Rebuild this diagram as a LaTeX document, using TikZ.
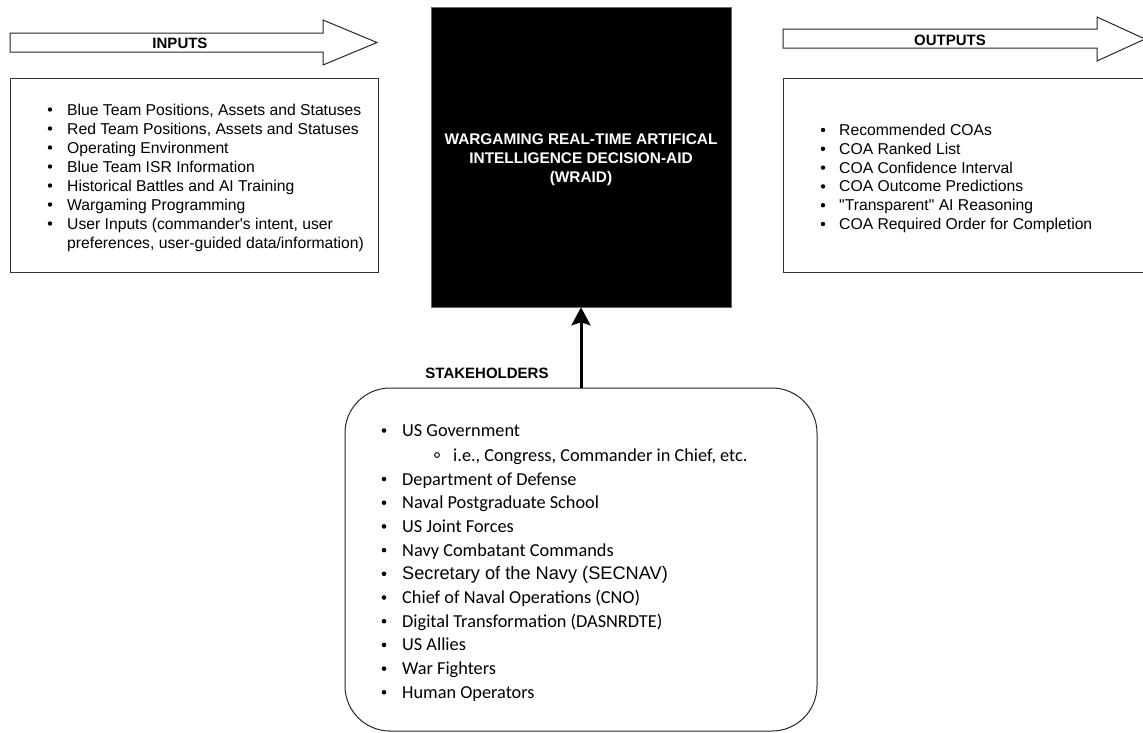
\documentclass[tikz,border=0pt]{standalone}
\usepackage{fontspec}
\setmainfont{Liberation Sans}
\newfontfamily\calfont{Carlito}
\usetikzlibrary{arrows.meta}

\begin{document}
\begin{tikzpicture}[x=1pt,y=-1pt,
  frame/.style={draw=black!80, line width=1pt},
  bigarrow/.style={draw=black!85, line width=1pt, fill=white, line join=miter},
  tag/.style={font=\bfseries\fontsize{15}{18}\selectfont, inner sep=0pt},
  listtext/.style={font=\fontsize{15.7}{19}\selectfont, anchor=base west, inner sep=0pt},
  stktext/.style={font=\calfont\fontsize{18.3}{24}\selectfont, anchor=base west, inner sep=0pt},
  bigtext/.style={font=\fontsize{18.2}{24}\selectfont, anchor=base west, inner sep=0pt},
  pusharrow/.style={line width=3pt, -{Stealth[width=19pt,length=18pt,inset=3pt]}},
]
\useasboundingbox (0,0) rectangle (1143,732);
\clip (0,0) rectangle (1143,732);

% ---- input side ----
\draw[bigarrow] (10,33) -- (323,33) -- (323,20) -- (377,42.5) -- (323,65) -- (323,52) -- (10,52) -- cycle;
\node[tag] (inputs) at (180,43) {INPUTS};
\draw[frame] (10,78) rectangle (378,272);

\foreach \t [count=\i] in {
  {Blue Team Positions, Assets and Statuses},
  {Red Team Positions, Assets and Statuses},
  {Operating Environment},
  {Blue Team ISR Information},
  {Historical Battles and AI Training},
  {Wargaming Programming},
  {User Inputs (commander\textquotesingle s intent, user}} {
  \node[listtext] (in\i) at (67,{115+19*(\i-1)}) {\t};
  \fill (50,{109.5+19*(\i-1)}) circle (2.2pt);
}
\node[listtext] (in8) at (67,248) {preferences, user-guided data/information)};

% ---- decision aid ----
\node[fill=black, draw=black!60, line width=0.6pt, minimum width=300pt, minimum height=300pt, inner sep=0pt] (wraid) at (581,157) {};
\node[font=\bfseries\fontsize{15.4}{19}\selectfont, text=white, align=center, inner sep=0pt] (wraidlabel) at (581,160)
  {WARGAMING REAL-TIME ARTIFICAL\\INTELLIGENCE DECISION-AID\\(WRAID)};

% ---- output side ----
\draw[bigarrow] (783,29) -- (1097,29) -- (1097,17) -- (1145,39) -- (1097,61) -- (1097,48) -- (783,48) -- cycle;
\node[tag] (outputs) at (950,40) {OUTPUTS};
\draw[frame] (783,78) rectangle (1160,272);

\foreach \t [count=\i] in {
  {Recommended COAs},
  {COA Ranked List},
  {COA Confidence Interval},
  {COA Outcome Predictions},
  {\textquotedbl Transparent\textquotedbl{} AI Reasoning},
  {COA Required Order for Completion}} {
  \node[listtext] (out\i) at (839,{135.5+18.8*(\i-1)}) {\t};
  \fill (823,{130+18.8*(\i-1)}) circle (2.2pt);
}

% ---- stakeholders ----
\node[draw=black!85, line width=1pt, rounded corners=45pt, minimum width=472pt, minimum height=343pt, inner sep=0pt] (stake) at (581,559.5) {};
\node[tag] (stakelabel) at (487,373) {STAKEHOLDERS};
\draw[pusharrow] (stake.north) -- (wraid.south);

\node[stktext] (s1) at (402,436.5) {US Government};
\fill (384,430.5) circle (2.3pt);
\node[stktext] (s1a) at (453,461) {i.e., Congress, Commander in Chief, etc.};
\draw[line width=0.9pt] (437,455) circle (2.4pt);
\foreach \t [count=\i] in {
  {Department of Defense},
  {Naval Postgraduate School},
  {US Joint Forces},
  {Navy Combatant Commands},
  {},
  {Chief of Naval Operations (CNO)},
  {Digital Transformation (DASNRDTE)},
  {US Allies},
  {War Fighters},
  {Human Operators}} {
  \node[stktext] (s\i b) at (402,{485+23.7*(\i-1)}) {\t};
  \fill (384,{479+23.7*(\i-1)}) circle (2.3pt);
}
\node[bigtext] (secnav) at (402,579.5) {Secretary of the Navy (SECNAV)};
\end{tikzpicture}
\end{document}
